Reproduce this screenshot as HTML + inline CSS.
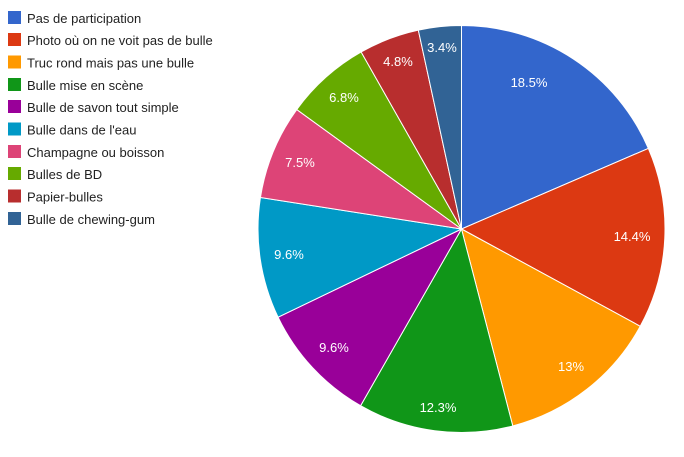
<!DOCTYPE html>
<html><head><meta charset="utf-8"><style>
html,body{margin:0;padding:0;background:#fff;width:684px;height:457px;overflow:hidden}
svg{display:block}
text{font-family:"Liberation Sans",Arial,sans-serif;font-size:13px}
</style></head><body>
<svg id="s" width="684" height="457" xmlns="http://www.w3.org/2000/svg">
<g id="pie"></g>
<g fill="#fff" text-anchor="middle">
<text x="529" y="87">18.5%</text>
<text x="632" y="241">14.4%</text>
<text x="571" y="371">13%</text>
<text x="438" y="412">12.3%</text>
<text x="334" y="352">9.6%</text>
<text x="289" y="259">9.6%</text>
<text x="300" y="167">7.5%</text>
<text x="344" y="102">6.8%</text>
<text x="398" y="66">4.8%</text>
<text x="442" y="52">3.4%</text>
</g>
<g fill="#222">
<rect x="8" y="11" width="13" height="13" fill="#3366cc"/><text x="27" y="23">Pas de participation</text>
<rect x="8" y="33" width="13" height="13" fill="#dc3912"/><text x="27" y="45">Photo où on ne voit pas de bulle</text>
<rect x="8" y="55.5" width="13" height="13" fill="#ff9900"/><text x="27" y="67.5">Truc rond mais pas une bulle</text>
<rect x="8" y="78" width="13" height="13" fill="#109618"/><text x="27" y="90">Bulle mise en scène</text>
<rect x="8" y="100" width="13" height="13" fill="#990099"/><text x="27" y="112">Bulle de savon tout simple</text>
<rect x="8" y="122.5" width="13" height="13" fill="#0099c6"/><text x="27" y="134.5">Bulle dans de l'eau</text>
<rect x="8" y="145" width="13" height="13" fill="#dd4477"/><text x="27" y="157">Champagne ou boisson</text>
<rect x="8" y="167" width="13" height="13" fill="#66aa00"/><text x="27" y="179">Bulles de BD</text>
<rect x="8" y="189.5" width="13" height="13" fill="#b82e2e"/><text x="27" y="201.5">Papier-bulles</text>
<rect x="8" y="212" width="13" height="13" fill="#316395"/><text x="27" y="224">Bulle de chewing-gum</text>
</g>
</svg>
<script>
var v=[18.5,14.4,13,12.3,9.6,9.6,7.5,6.8,4.8,3.4],c=["#3366cc","#dc3912","#ff9900","#109618","#990099","#0099c6","#dd4477","#66aa00","#b82e2e","#316395"];
var cx=461.5,cy=229,r=203.5,t=0,s=0;v.forEach(function(x){s+=x});
var g=document.getElementById("pie"),h="";
v.forEach(function(x,i){var a0=t/s*2*Math.PI;t+=x;var a1=t/s*2*Math.PI;
var x0=cx+r*Math.sin(a0),y0=cy-r*Math.cos(a0),x1=cx+r*Math.sin(a1),y1=cy-r*Math.cos(a1);
h+='<path d="M'+cx+' '+cy+'L'+x0+' '+y0+'A'+r+' '+r+' 0 '+((a1-a0)>Math.PI?1:0)+' 1 '+x1+' '+y1+'Z" fill="'+c[i]+'" stroke="#fff" stroke-width="1"/>';});
g.innerHTML=h;
</script>
</body></html>
